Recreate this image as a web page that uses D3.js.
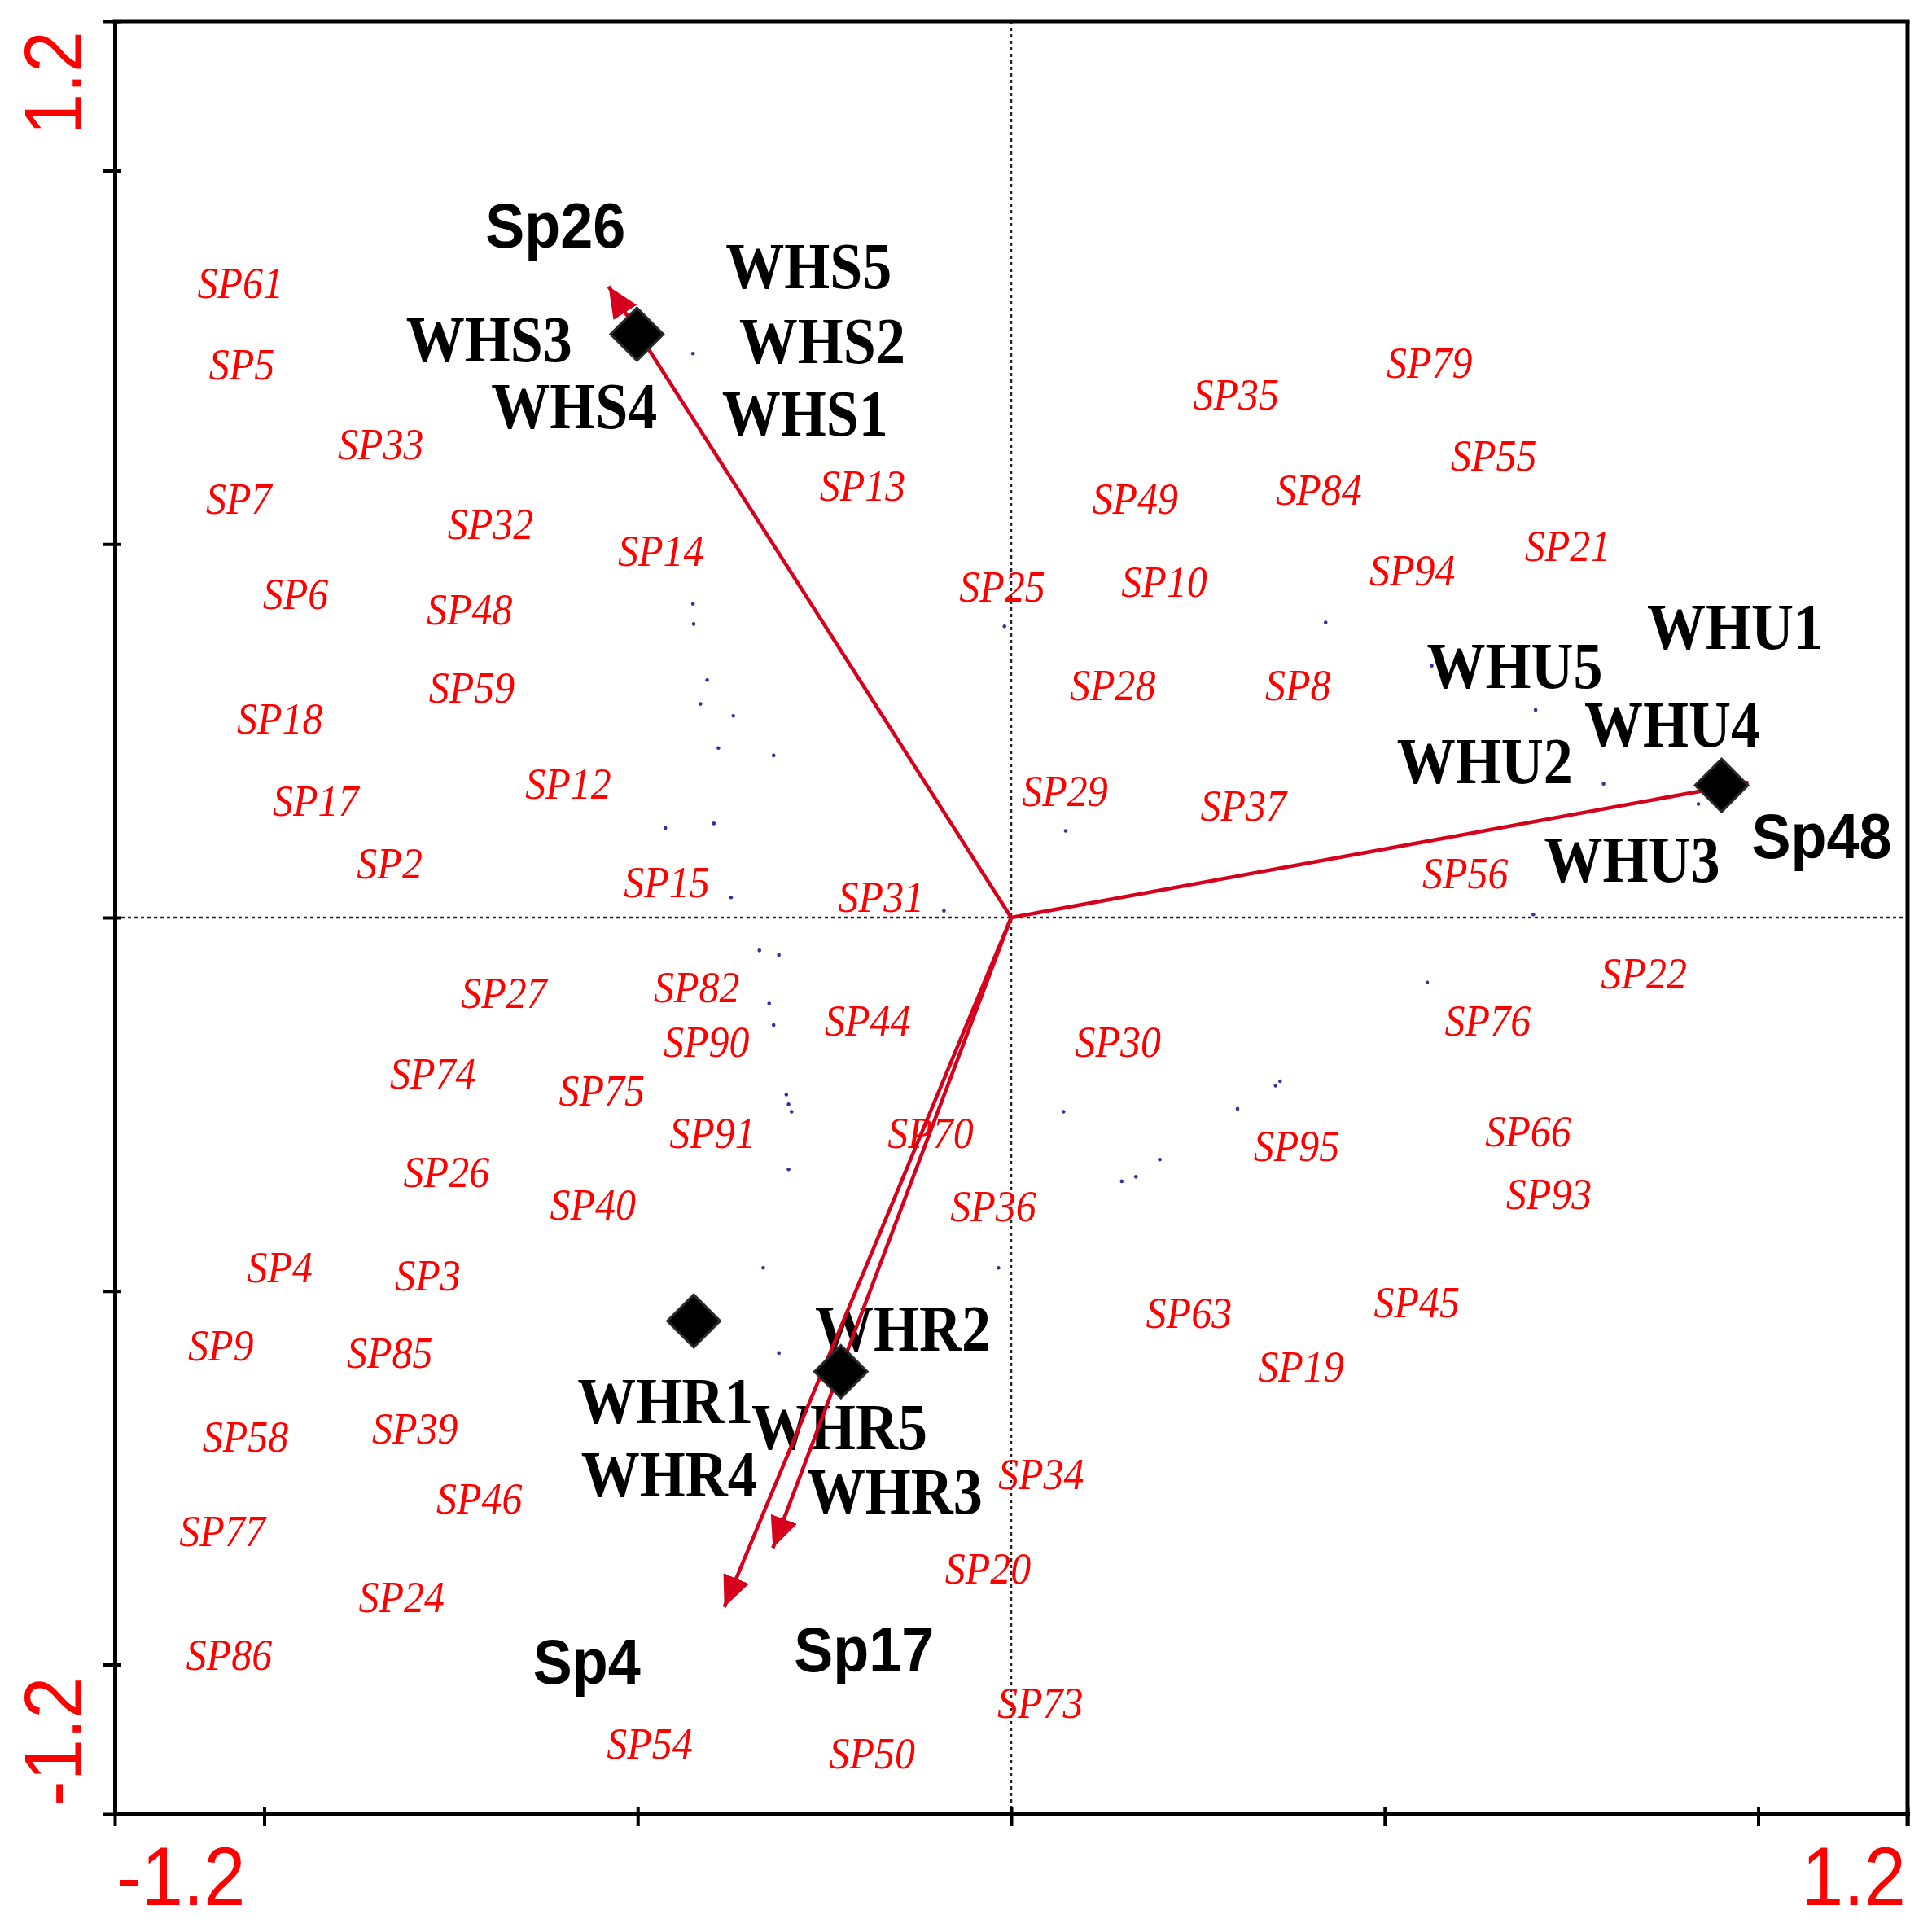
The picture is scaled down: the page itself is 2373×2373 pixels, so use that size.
<!DOCTYPE html>
<html>
<head>
<meta charset="utf-8">
<script src="https://cdn.jsdelivr.net/npm/d3@7"></script>
<style>
  body { margin: 0; background: #fff; }
</style>
</head>
<body>
<svg id="biplot"></svg>
<script>
// Species labels (red italic) - label positions in axis units
const spNames = [
  "SP61", "SP5", "SP33", "SP7", "SP32", "SP14", "SP6", "SP48", "SP59", "SP18",
  "SP12", "SP17", "SP2", "SP15", "SP31", "SP13",
  "SP79", "SP35", "SP55", "SP49", "SP84", "SP21", "SP94", "SP25", "SP10", "SP28",
  "SP8", "SP29", "SP37", "SP56",
  "SP22", "SP76", "SP30", "SP66", "SP95", "SP93", "SP36", "SP70", "SP63", "SP45",
  "SP19", "SP34", "SP20", "SP73", "SP50",
  "SP27", "SP82", "SP44", "SP90", "SP74", "SP75", "SP91", "SP26", "SP40", "SP4",
  "SP3", "SP9", "SP85", "SP58", "SP39", "SP46", "SP77", "SP24", "SP86", "SP54"
];
const spX = [
  -1.032, -1.030, -0.844, -1.034, -0.697, -0.469, -0.958, -0.725, -0.722, -0.979,
  -0.593, -0.931, -0.832, -0.461, -0.174, -0.199,
  0.560, 0.301, 0.646, 0.166, 0.412, 0.745, 0.537, -0.012, 0.205, 0.136,
  0.384, 0.072, 0.311, 0.608,
  0.847, 0.638, 0.143, 0.692, 0.382, 0.720, -0.024, -0.108, 0.238, 0.543,
  0.388, 0.040, -0.031, 0.039, -0.186,
  -0.679, -0.421, -0.192, -0.408, -0.774, -0.548, -0.400, -0.756, -0.560, -0.979,
  -0.781, -1.058, -0.832, -1.025, -0.798, -0.712, -1.056, -0.816, -1.047, -0.484
];
const spY = [
  0.849, 0.740, 0.634, 0.560, 0.527, 0.491, 0.433, 0.412, 0.308, 0.266,
  0.179, 0.156, 0.072, 0.047, 0.027, 0.578,
  0.743, 0.700, 0.618, 0.560, 0.572, 0.497, 0.464, 0.443, 0.449, 0.311,
  0.311, 0.169, 0.149, 0.059,
  -0.075, -0.138, -0.167, -0.286, -0.306, -0.370, -0.387, -0.289, -0.529, -0.515,
  -0.601, -0.745, -0.872, -1.052, -1.119,
  -0.101, -0.093, -0.138, -0.167, -0.209, -0.232, -0.289, -0.341, -0.384, -0.468,
  -0.479, -0.573, -0.583, -0.695, -0.684, -0.778, -0.822, -0.910, -0.987, -1.106
];

// Small blue species points
const dotX = [
  -0.426, -0.426, -0.425, -0.407, -0.416, -0.372, -0.392, -0.318, -0.463, -0.398,
  -0.375, -0.090, -0.337, -0.311, -0.324, -0.318, -0.301, -0.298, -0.294, -0.298,
  -0.332, -0.311, -0.009, 0.073, 0.070, 0.303, 0.199, 0.167, 0.148, -0.017,
  0.699, 0.557, 0.360, 0.354, 0.421, 0.563, 0.702, 0.793, 0.920
];
const dotY = [
  0.755, 0.420, 0.393, 0.318, 0.286, 0.270, 0.227, 0.217, 0.120, 0.126,
  0.027, 0.009, -0.044, -0.050, -0.115, -0.144, -0.237, -0.250, -0.260, -0.337,
  -0.469, -0.583, 0.390, 0.116, -0.260, -0.256, -0.324, -0.347, -0.353, -0.469,
  0.004, -0.087, -0.219, -0.225, 0.395, 0.337, 0.278, 0.179, 0.152
];

// Sample group markers (diamonds)
const groupX = [-0.501, 0.951, -0.425, -0.228];
const groupY = [0.781, 0.177, -0.540, -0.608];

// Sample labels
const sampleNames = [
  "WHS5", "WHS3", "WHS2", "WHS4", "WHS1",
  "WHU1", "WHU5", "WHU4", "WHU2", "WHU3",
  "WHR2", "WHR1", "WHR5", "WHR4", "WHR3"
];
const sampleX = [
  -0.271, -0.699, -0.253, -0.585, -0.276,
  0.969, 0.674, 0.885, 0.634, 0.831,
  -0.145, -0.463, -0.230, -0.458, -0.156
];
const sampleY = [
  0.872, 0.774, 0.772, 0.684, 0.675,
  0.389, 0.337, 0.258, 0.209, 0.077,
  -0.550, -0.647, -0.682, -0.746, -0.768
];

// Species arrows
const arrowNames = ["Sp26", "Sp48", "Sp4", "Sp17"];
const arrowX = [-0.539, 0.987, -0.384, -0.319];
const arrowY = [0.845, 0.181, -0.923, -0.844];
const arrowLabelX = [-0.610, 1.085, -0.568, -0.197];
const arrowLabelY = [0.928, 0.110, -0.995, -0.979];

// Axes
const axisDomain = [-1.2, 1.2];
const tickValues = [-1.2, -1, -0.5, 0, 0.5, 1, 1.2];
const endLabels = ["-1.2", "1.2"];

// Chart dimensions
const width = 2373;
const height = 2373;
const plotLeft = 141, plotRight = 2343, plotTop = 26, plotBottom = 2228;

const x = d3.scaleLinear().domain(axisDomain).range([plotLeft, plotRight]);
const y = d3.scaleLinear().domain(axisDomain).range([plotBottom, plotTop]);

const svg = d3.select("#biplot")
  .attr("width", width)
  .attr("height", height)
  .style("background", "#fff");

// Dotted zero lines
svg.append("line")
  .attr("x1", x(0)).attr("x2", x(0))
  .attr("y1", y(1.2)).attr("y2", y(-1.2))
  .attr("stroke", "#222").attr("stroke-width", 2.5)
  .attr("stroke-dasharray", "4,4");
svg.append("line")
  .attr("x1", x(-1.2)).attr("x2", x(1.2))
  .attr("y1", y(0)).attr("y2", y(0))
  .attr("stroke", "#222").attr("stroke-width", 2.5)
  .attr("stroke-dasharray", "4,4");

// Blue points
svg.append("g")
  .selectAll("circle")
  .data(d3.range(dotX.length))
  .enter().append("circle")
  .attr("cx", i => x(dotX[i]))
  .attr("cy", i => y(dotY[i]))
  .attr("r", 2.3)
  .attr("fill", "#33339a");

// Red species labels
const spSize = 50, spStretch = 1.1;
svg.append("g")
  .selectAll("text")
  .data(d3.range(spNames.length))
  .enter().append("text")
  .attr("transform", i => `translate(${x(spX[i])},${y(spY[i]) + 0.331 * spSize * spStretch}) scale(1,${spStretch})`)
  .attr("text-anchor", "middle")
  .attr("font-family", "'Liberation Serif', 'Times New Roman', serif")
  .attr("font-style", "italic")
  .attr("font-size", spSize)
  .attr("fill", "#ff0000")
  .text(i => spNames[i]);

// Sample labels
const smSize = 72, smStretch = 1.13;
svg.append("g")
  .selectAll("text")
  .data(d3.range(sampleNames.length))
  .enter().append("text")
  .attr("transform", i => `translate(${x(sampleX[i])},${y(sampleY[i]) + 0.331 * smSize * smStretch}) scale(1,${smStretch})`)
  .attr("text-anchor", "middle")
  .attr("font-family", "'Liberation Serif', 'Times New Roman', serif")
  .attr("font-weight", "bold")
  .attr("font-size", smSize)
  .attr("fill", "#000")
  .text(i => sampleNames[i]);

// Arrowhead
svg.append("defs")
  .append("marker")
  .attr("id", "head")
  .attr("viewBox", "0 0 38 34")
  .attr("refX", 38)
  .attr("refY", 17)
  .attr("markerWidth", 38)
  .attr("markerHeight", 34)
  .attr("markerUnits", "userSpaceOnUse")
  .attr("orient", "auto")
  .append("path")
  .attr("d", "M0,0L38,17L0,34Z")
  .attr("fill", "#d6001c");

// Arrows
svg.append("g")
  .selectAll("line")
  .data(d3.range(arrowNames.length))
  .enter().append("line")
  .attr("x1", x(0))
  .attr("y1", y(0))
  .attr("x2", i => x(arrowX[i]))
  .attr("y2", i => y(arrowY[i]))
  .attr("stroke", "#d6001c")
  .attr("stroke-width", 4.5)
  .attr("marker-end", "url(#head)");

// Diamonds
svg.append("g")
  .selectAll("path")
  .data(d3.range(groupX.length))
  .enter().append("path")
  .attr("d", d3.symbol().type(d3.symbolSquare).size(2100))
  .attr("transform", i => `translate(${x(groupX[i])},${y(groupY[i])}) rotate(45)`)
  .attr("fill", "#000")
  .attr("stroke", "#2a2a2a")
  .attr("stroke-width", 3);

// Arrow labels
const arSize = 72, arStretch = 1.09;
svg.append("g")
  .selectAll("text")
  .data(d3.range(arrowNames.length))
  .enter().append("text")
  .attr("transform", i => `translate(${x(arrowLabelX[i])},${y(arrowLabelY[i]) + 0.358 * arSize * arStretch}) scale(1,${arStretch})`)
  .attr("text-anchor", "middle")
  .attr("font-family", "'Liberation Sans', Arial, sans-serif")
  .attr("font-weight", "bold")
  .attr("font-size", arSize)
  .attr("fill", "#000")
  .text(i => arrowNames[i]);

// Frame: top and right lines
svg.append("line")
  .attr("x1", x(-1.2)).attr("x2", x(1.2))
  .attr("y1", y(1.2)).attr("y2", y(1.2))
  .attr("stroke", "#000").attr("stroke-width", 5).attr("stroke-linecap", "square");
svg.append("line")
  .attr("x1", x(1.2)).attr("x2", x(1.2))
  .attr("y1", y(1.2)).attr("y2", y(-1.2) + 15)
  .attr("stroke", "#000").attr("stroke-width", 5);

// X-Axis
const xAxis = svg.append("g")
  .attr("transform", `translate(0,${plotBottom})`)
  .call(d3.axisBottom(x).tickValues(tickValues).tickFormat("").tickSizeOuter(0).tickSizeInner(15));
xAxis.select(".domain").attr("stroke-width", 5).attr("stroke-linecap", "square");
xAxis.selectAll(".tick line").attr("y1", -8).attr("stroke-width", 4);

// Y-Axis
const yAxis = svg.append("g")
  .attr("transform", `translate(${plotLeft},0)`)
  .call(d3.axisLeft(y).tickValues(tickValues).tickFormat("").tickSizeOuter(0).tickSizeInner(15));
yAxis.select(".domain").attr("stroke-width", 5).attr("stroke-linecap", "square");
yAxis.selectAll(".tick line").attr("x1", 8).attr("stroke-width", 4);

// Axis end labels
const lblSize = 92, lblStretch = 1.1;
svg.append("g")
  .selectAll("text")
  .data(endLabels)
  .enter().append("text")
  .attr("transform", (d, i) => `translate(${i === 0 ? x(-1.2) + 2 : x(1.2) - 2},${plotBottom + 112}) scale(1,${lblStretch})`)
  .attr("text-anchor", (d, i) => i === 0 ? "start" : "end")
  .attr("font-family", "'Liberation Sans', Arial, sans-serif")
  .attr("font-size", lblSize)
  .attr("fill", "#ff0000")
  .text(d => d);

svg.append("g")
  .selectAll("text")
  .data(endLabels)
  .enter().append("text")
  .attr("transform", (d, i) => `translate(100,${i === 0 ? y(-1.2) - 10 : y(1.2) + 12}) rotate(-90) scale(1,1.08)`)
  .attr("text-anchor", (d, i) => i === 0 ? "start" : "end")
  .attr("font-family", "'Liberation Sans', Arial, sans-serif")
  .attr("font-size", 92)
  .attr("fill", "#ff0000")
  .text(d => d);
</script>
</body>
</html>
